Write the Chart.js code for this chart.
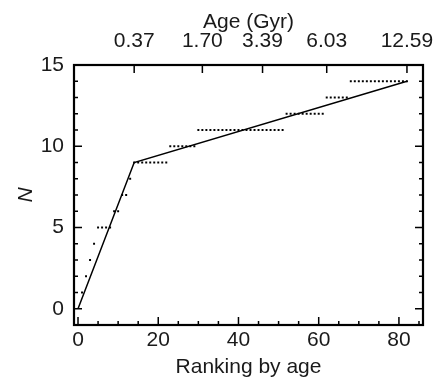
<!DOCTYPE html>
<html>
<head>
<meta charset="utf-8">
<script src="https://cdn.jsdelivr.net/npm/chart.js@4"></script>
<style>
  html, body { margin:0; padding:0; background:#fff; }
  #wrap { width:433px; height:377px; }
</style>
</head>
<body>
<div id="wrap"><canvas id="ageChart" width="433" height="377"></canvas></div>
<script>
// ranking of each star by age, and the cumulative count N at that rank
var ranks = [1,2,3,4,5,6,7,8,9,10,11,12,13,14,15,16,17,18,19,20,
  21,22,23,24,25,26,27,28,29,30,31,32,33,34,35,36,37,38,39,40,
  41,42,43,44,45,46,47,48,49,50,51,52,53,54,55,56,57,58,59,60,
  61,62,63,64,65,66,67,68,69,70,71,72,73,74,75,76,77,78,79,80,81,82];
var counts = [1,2,3,4,5,5,5,5,6,6,7,7,8,9,9,9,9,9,9,9,
  9,9,10,10,10,10,10,10,10,11,11,11,11,11,11,11,11,11,11,11,
  11,11,11,11,11,11,11,11,11,11,11,12,12,12,12,12,12,12,12,12,
  12,13,13,13,13,13,13,14,14,14,14,14,14,14,14,14,14,14,14,14,14,14];

// broken-line fit
var fitRanks = [0, 14, 82];
var fitCounts = [0, 9, 14];

// axis ticks
var rankTicks = [0, 20, 40, 60, 80];
var nTicks = [0, 5, 10, 15];
var ageTickRanks = [14, 31, 46, 62, 82];
var ageTickLabels = ['0.37', '1.70', '3.39', '6.03', '12.59'];

var FONT = "'Liberation Sans', Arial, Helvetica, sans-serif";

function pts(xs, ys) {
    var out = [];
    for (var i = 0; i < xs.length; i++) out.push({x: xs[i], y: ys[i]});
    return out;
}
function fixedTicks(list) {
    return function(s) { s.ticks = list.map(function(v) { return {value: v}; }); };
}
function noPad(s) {
    s.paddingLeft = 0; s.paddingRight = 0; s.paddingTop = 0; s.paddingBottom = 0;
}

// frame + inward tick marks
var frameTicks = {
    id: 'frameTicks',
    afterDraw: function(chart) {
        var ctx = chart.ctx, a = chart.chartArea;
        var xs = chart.scales.x, ys = chart.scales.y, x2 = chart.scales.x2;
        ctx.save();
        ctx.strokeStyle = '#000';
        ctx.lineWidth = 1.5;
        ctx.beginPath();
        for (var v = 0; v <= 85; v += 5) {
            var px = xs.getPixelForValue(v);
            var len = (v % 20 === 0) ? 8 : 4;
            ctx.moveTo(px, a.bottom); ctx.lineTo(px, a.bottom - len);
        }
        for (var i = 0; i < ageTickRanks.length; i++) {
            var tx = x2.getPixelForValue(ageTickRanks[i]);
            ctx.moveTo(tx, a.top); ctx.lineTo(tx, a.top + 8);
        }
        for (var n = 0; n <= 15; n++) {
            var py = ys.getPixelForValue(n);
            var l = (n % 5 === 0) ? 8 : 4;
            ctx.moveTo(a.left, py); ctx.lineTo(a.left + l, py);
            ctx.moveTo(a.right, py); ctx.lineTo(a.right - l, py);
        }
        ctx.stroke();
        ctx.lineWidth = 2.2;
        ctx.strokeRect(a.left, a.top, a.right - a.left, a.bottom - a.top);
        ctx.restore();
    }
};

new Chart(document.getElementById('ageChart'), {
    type: 'scatter',
    data: {
        datasets: [{
            label: 'N',
            data: pts(ranks, counts),
            pointStyle: 'rect',
            pointRadius: 1.4,
            pointBorderWidth: 0,
            backgroundColor: '#000',
            borderColor: '#000'
        }, {
            label: 'fit',
            type: 'line',
            data: pts(fitRanks, fitCounts),
            borderColor: '#000',
            borderWidth: 1.5,
            pointRadius: 0,
            fill: false,
            tension: 0
        }]
    },
    options: {
        responsive: false,
        animation: false,
        layout: { padding: { left: 0, right: 10, top: 0, bottom: 0 } },
        plugins: { legend: { display: false }, tooltip: { enabled: false } },
        scales: {
            x: {
                type: 'linear', position: 'bottom', min: -1, max: 86,
                grid: { display: false, drawTicks: false },
                border: { display: false },
                afterBuildTicks: fixedTicks(rankTicks),
                ticks: { padding: 3, color: '#1a1a1a', autoSkip: false, maxRotation: 0,
                    font: { family: FONT, size: 21 } },
                title: { display: true, text: 'Ranking by age', color: '#1a1a1a',
                    font: { family: FONT, size: 21, lineHeight: 1 },
                    padding: { top: 0, bottom: -1 } },
                afterFit: function(s) { s.height = 52; noPad(s); }
            },
            x2: {
                type: 'linear', position: 'top', min: -1, max: 86,
                grid: { display: false, drawTicks: false },
                border: { display: false },
                afterBuildTicks: fixedTicks(ageTickRanks),
                ticks: { padding: 11, color: '#1a1a1a', autoSkip: false, maxRotation: 0,
                    font: { family: FONT, size: 21 },
                    callback: function(v) {
                        var k = ageTickRanks.indexOf(v);
                        return k >= 0 ? ageTickLabels[k] : '';
                    } },
                title: { display: true, text: 'Age (Gyr)', color: '#1a1a1a',
                    font: { family: FONT, size: 21, lineHeight: 1 },
                    padding: { top: 12, bottom: 0 } },
                afterFit: function(s) { s.height = 65; noPad(s); }
            },
            y: {
                type: 'linear', position: 'left', min: -1, max: 15,
                grid: { display: false, drawTicks: false },
                border: { display: false },
                afterBuildTicks: fixedTicks(nTicks),
                ticks: { padding: 10, color: '#1a1a1a',
                    font: { family: FONT, size: 21 } },
                title: { display: true, text: 'N', color: '#1a1a1a',
                    font: { family: FONT, size: 21, style: 'italic', lineHeight: 1 },
                    padding: { top: 16, bottom: 0 } },
                afterFit: function(s) { s.width = 74; noPad(s); }
            }
        }
    },
    plugins: [frameTicks]
});
</script>
</body>
</html>
